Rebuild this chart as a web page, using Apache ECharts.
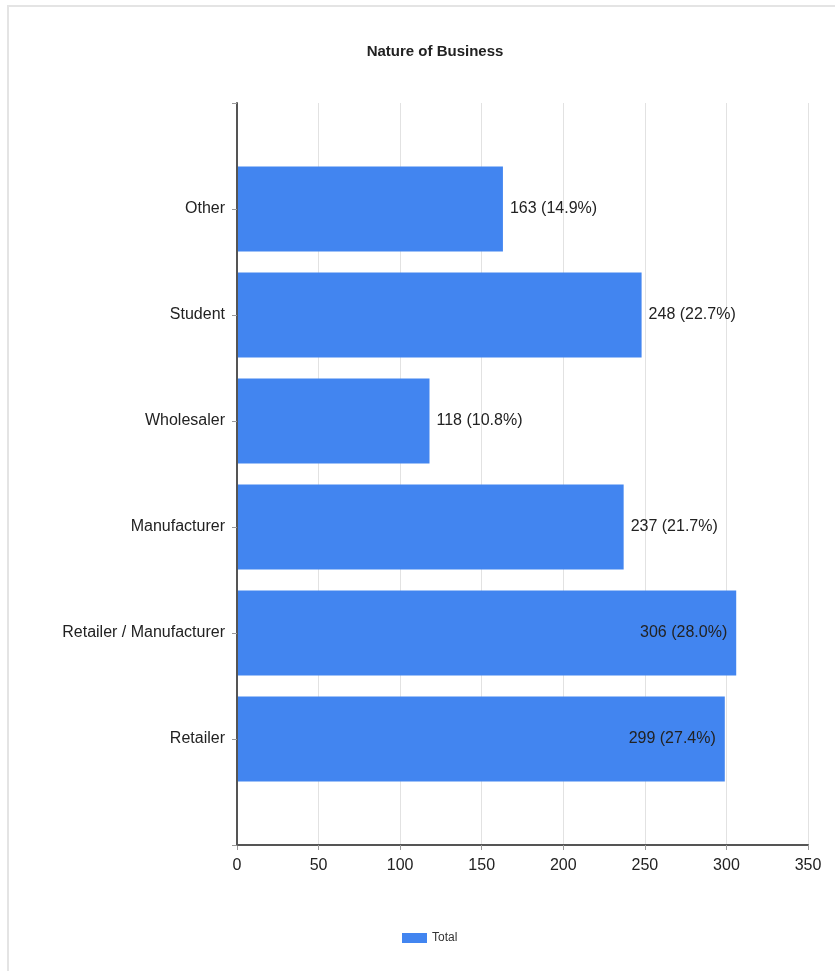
<!DOCTYPE html>
<html>
<head>
<meta charset="utf-8">
<script src="https://cdn.jsdelivr.net/npm/echarts@6/dist/echarts.min.js"></script>
<style>
  html, body { margin: 0; padding: 0; background: #fff; }
  #chart { width: 835px; height: 971px; }
</style>
</head>
<body>
<div id="chart"></div>
<script>
// Business categories, listed bottom to top
const categories = ['Retailer', 'Retailer / Manufacturer', 'Manufacturer', 'Wholesaler', 'Student', 'Other'];
const totals = [299, 306, 237, 118, 248, 163];
const shares = ['27.4%', '28.0%', '21.7%', '10.8%', '22.7%', '14.9%'];
const xTicks = [0, 50, 100, 150, 200, 250, 300, 350];

// One blank slot above and below the bars
const axisCats = [''].concat(categories, ['']);
const seriesData = [null].concat(totals.map(function (v) {
  const inside = v > 280;
  return {
    value: v,
    label: {
      position: inside ? 'insideRight' : 'right',
      distance: inside ? 9 : 7
    }
  };
}), [null]);

const chart = echarts.init(document.getElementById('chart'));
chart.setOption({
  backgroundColor: '#fff',
  animation: false,
  textStyle: { fontFamily: 'Liberation Sans, Arial, sans-serif' },
  graphic: [{
    type: 'rect',
    shape: { x: 8, y: 6, width: 900, height: 1000 },
    style: { fill: 'none', stroke: '#e4e4e4', lineWidth: 2 },
    silent: true
  }],
  title: {
    text: 'Nature of Business',
    left: 430,
    top: 39,
    textAlign: 'center',
    textStyle: { fontSize: 15, fontWeight: 'bold', color: '#222' }
  },
  legend: {
    data: ['Total'],
    left: 397,
    top: 927,
    itemWidth: 25,
    itemHeight: 10,
    itemGap: 5,
    icon: 'rect',
    textStyle: { fontSize: 12, color: '#333' }
  },
  grid: { left: 237, right: 27, top: 103, bottom: 126, containLabel: false },
  xAxis: {
    type: 'value',
    min: xTicks[0],
    max: xTicks[xTicks.length - 1],
    interval: 50,
    axisLine: { show: true, lineStyle: { color: '#555', width: 2 } },
    axisTick: { show: true, length: 5, lineStyle: { color: '#999' } },
    axisLabel: { color: '#222', fontSize: 16, margin: 13 },
    splitLine: { show: true, lineStyle: { color: '#e2e2e2', width: 1 } }
  },
  yAxis: {
    type: 'category',
    data: axisCats,
    boundaryGap: false,
    z: 5,
    axisLine: { show: true, lineStyle: { color: '#555', width: 2 } },
    axisTick: { show: true, length: 5, lineStyle: { color: '#999' } },
    axisLabel: { color: '#222', fontSize: 16, margin: 12, interval: 0 },
    splitLine: { show: false }
  },
  series: [{
    name: 'Total',
    type: 'bar',
    data: seriesData,
    barWidth: 85,
    itemStyle: { color: '#4285f0' },
    label: {
      show: true,
      color: '#222',
      fontSize: 16,
      formatter: function (p) { return p.value + ' (' + shares[p.dataIndex - 1] + ')'; }
    }
  }]
});
</script>
</body>
</html>
